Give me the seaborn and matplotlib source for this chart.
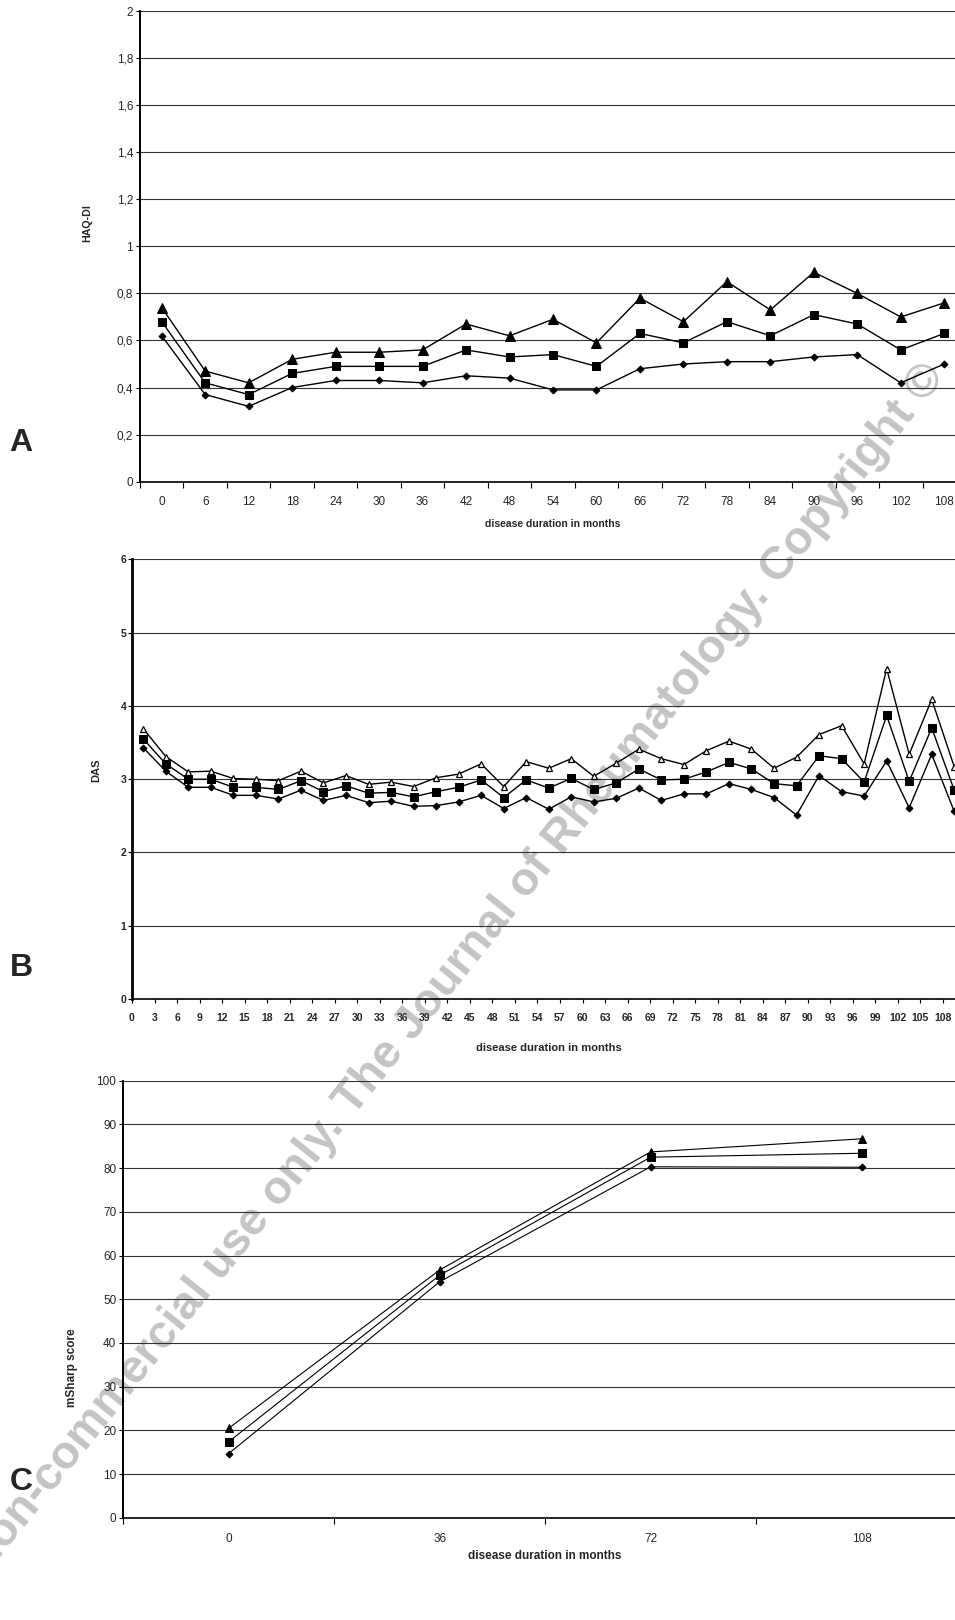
import matplotlib
matplotlib.use("Agg")
import matplotlib.pyplot as plt
import seaborn as sns
import numpy as np

# panel A: HAQ-DI every 6 months
haq_months = [0, 6, 12, 18, 24, 30, 36, 42, 48, 54, 60, 66, 72, 78, 84, 90, 96, 102, 108]
haq_high = [0.74, 0.47, 0.42, 0.52, 0.55, 0.55, 0.56, 0.67, 0.62, 0.69, 0.59, 0.78, 0.68, 0.85, 0.73, 0.89, 0.80, 0.70, 0.76]
haq_mid = [0.68, 0.42, 0.37, 0.46, 0.49, 0.49, 0.49, 0.56, 0.53, 0.54, 0.49, 0.63, 0.59, 0.68, 0.62, 0.71, 0.67, 0.56, 0.63]
haq_low = [0.62, 0.37, 0.32, 0.40, 0.43, 0.43, 0.42, 0.45, 0.44, 0.39, 0.39, 0.48, 0.50, 0.51, 0.51, 0.53, 0.54, 0.42, 0.50]
haq_yticks = [0, 0.2, 0.4, 0.6, 0.8, 1, 1.2, 1.4, 1.6, 1.8, 2]
haq_yticklabels = ["0", "0,2", "0,4", "0,6", "0,8", "1", "1,2", "1,4", "1,6", "1,8", "2"]

# panel B: DAS every 3 months
das_months = list(range(0, 109, 3))
das_high = [3.69, 3.31, 3.10, 3.11, 3.01, 3.00, 2.98, 3.11, 2.95, 3.05, 2.93, 2.96, 2.90, 3.02, 3.07, 3.21,
            2.90, 3.24, 3.15, 3.28, 3.04, 3.22, 3.41, 3.28, 3.20, 3.39, 3.52, 3.41, 3.15, 3.30, 3.61, 3.73, 3.21,
            4.51, 3.34, 4.09, 3.17]
das_mid = [3.55, 3.21, 3.00, 3.00, 2.89, 2.89, 2.86, 2.98, 2.83, 2.91, 2.81, 2.82, 2.76, 2.83, 2.89, 2.99,
           2.75, 2.99, 2.88, 3.01, 2.86, 2.95, 3.14, 2.99, 3.00, 3.10, 3.23, 3.14, 2.94, 2.91, 3.32, 3.28, 2.96,
           3.87, 2.97, 3.70, 2.85]
das_low = [3.43, 3.11, 2.89, 2.89, 2.78, 2.78, 2.73, 2.85, 2.71, 2.78, 2.68, 2.70, 2.63, 2.64, 2.69, 2.78,
           2.60, 2.75, 2.59, 2.76, 2.69, 2.74, 2.88, 2.71, 2.80, 2.80, 2.94, 2.86, 2.75, 2.51, 3.05, 2.83, 2.77,
           3.25, 2.61, 3.34, 2.56]
das_yticks = [0, 1, 2, 3, 4, 5, 6]

# panel C: mSharp score
sharp_months = [0, 36, 72, 108]
sharp_high = [20.5, 56.7, 83.7, 86.7]
sharp_mid = [17.4, 55.5, 82.5, 83.4]
sharp_low = [14.7, 54.0, 80.3, 80.2]
sharp_yticks = list(range(0, 101, 10))

watermark = "For personal non-commercial use only. The Journal of Rheumatology. Copyright \u00a9"

sns.set_style("white")
plt.rcParams['font.family'] = ['Liberation Sans', 'DejaVu Sans']

fig = plt.figure(figsize=(9.55, 16.2), dpi=100)

# diagonal watermark, anchored at its right end
fig.text(0.981, 0.7716, watermark, rotation=51.3, rotation_mode='anchor',
         ha='right', va='center', fontsize=33.6, fontweight='bold', color='#c4c4c4', zorder=-5)

axA = fig.add_axes([0.1466, 0.7027, 0.8649, 0.2904])
axB = fig.add_axes([0.1382, 0.3833, 0.8728, 0.2714])
axC = fig.add_axes([0.1291, 0.0631, 0.8835, 0.2698])


def frame(ax):
    ax.set_facecolor('none')
    ax.set_axisbelow(True)
    ax.yaxis.grid(True, color='0.2', lw=0.8)
    ax.xaxis.grid(False)
    ax.spines['right'].set_visible(False)
    ax.spines['top'].set_visible(False)
    ax.spines['left'].set_color('black')
    ax.spines['left'].set_linewidth(1.4)
    ax.spines['bottom'].set_color('black')
    ax.spines['bottom'].set_linewidth(1.2)
    ax.tick_params(which='both', bottom=True, left=True, direction='out', color='black', width=0.8)
    ax.tick_params(axis='y', length=3, pad=2)


# ---- A
sns.lineplot(x=haq_months, y=haq_high, ax=axA, color='black', lw=1.0, marker='^', markersize=6.5, mec='black')
sns.lineplot(x=haq_months, y=haq_mid, ax=axA, color='black', lw=1.0, marker='s', markersize=5.5, mec='black')
sns.lineplot(x=haq_months, y=haq_low, ax=axA, color='black', lw=1.0, marker='D', markersize=3.5, mec='black')
frame(axA)
axA.set_xlim(-3, 111)
axA.set_ylim(0, 2)
axA.set_xticks(haq_months)
axA.set_xticklabels([str(m) for m in haq_months], fontsize=8.5)
axA.set_xticks(np.arange(-3, 112, 6), minor=True)
axA.tick_params(axis='x', which='major', length=0, pad=10)
axA.tick_params(axis='x', which='minor', length=4)
axA.set_yticks(haq_yticks)
axA.set_yticklabels(haq_yticklabels, fontsize=8.5)
axA.set_xlabel("disease duration in months", fontsize=7.5, fontweight='bold')
axA.set_ylabel("HAQ-DI", fontsize=7.7, fontweight='bold')
axA.xaxis.set_label_coords(0.5, -0.079)
axA.yaxis.set_label_coords(-0.058, 0.55)

# ---- B (points sit between the month ticks)
das_x = [m + 1.5 for m in das_months]
sns.lineplot(x=das_x, y=das_high, ax=axB, color='black', lw=1.0, marker='^', markersize=5, mfc='white', mec='black', mew=0.9)
sns.lineplot(x=das_x, y=das_mid, ax=axB, color='black', lw=1.0, marker='s', markersize=6, mec='black')
sns.lineplot(x=das_x, y=das_low, ax=axB, color='black', lw=1.0, marker='D', markersize=3.5, mec='black')
frame(axB)
axB.spines['left'].set_linewidth(2.0)
axB.set_xlim(0, 111)
axB.set_ylim(0, 6)
axB.set_xticks(das_months)
axB.set_xticklabels([str(m) for m in das_months], fontsize=7.5, fontweight='bold')
axB.tick_params(axis='x', length=3, pad=7)
axB.set_yticks(das_yticks)
axB.set_yticklabels([str(v) for v in das_yticks], fontsize=7.5, fontweight='bold')
axB.tick_params(axis='y', pad=1)
axB.set_xlabel("disease duration in months", fontsize=8, fontweight='bold')
axB.set_ylabel("DAS", fontsize=8, fontweight='bold')
axB.xaxis.set_label_coords(0.5, -0.101)
axB.yaxis.set_label_coords(-0.037, 0.521)

# ---- C
sns.lineplot(x=sharp_months, y=sharp_high, ax=axC, color='black', lw=0.8, marker='^', markersize=5.5, mec='black')
sns.lineplot(x=sharp_months, y=sharp_mid, ax=axC, color='black', lw=0.8, marker='s', markersize=6, mec='black')
sns.lineplot(x=sharp_months, y=sharp_low, ax=axC, color='black', lw=0.8, marker='D', markersize=3.5, mec='black')
frame(axC)
axC.set_xlim(-18, 126)
axC.set_ylim(0, 100)
axC.set_xticks(sharp_months)
axC.set_xticklabels([str(m) for m in sharp_months], fontsize=8.5)
axC.set_xticks(np.arange(-18, 127, 36), minor=True)
axC.tick_params(axis='x', which='major', length=0, pad=11)
axC.tick_params(axis='x', which='minor', length=4)
axC.set_yticks(sharp_yticks)
axC.set_yticklabels([str(v) for v in sharp_yticks], fontsize=8.5)
axC.set_xlabel("disease duration in months", fontsize=8.5, fontweight='bold')
axC.set_ylabel("mSharp score", fontsize=8.5, fontweight='bold')
axC.xaxis.set_label_coords(0.5, -0.074)
axC.yaxis.set_label_coords(-0.0537, 0.3426)

for letter, y in [("A", 0.7265), ("B", 0.4025), ("C", 0.0852)]:
    fig.text(0.022, y, letter, ha='center', va='center', fontsize=23, fontweight='bold')

fig.savefig("out.png", dpi=100)
